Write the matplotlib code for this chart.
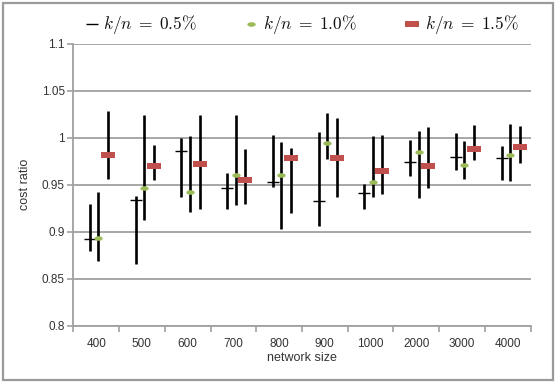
import numpy as np
import matplotlib
matplotlib.use("Agg")
import matplotlib.pyplot as plt
from matplotlib.path import Path
from matplotlib.lines import Line2D
from matplotlib.patches import Rectangle

plt.rcParams['font.family'] = ['Liberation Sans', 'DejaVu Sans']
plt.rcParams['mathtext.fontset'] = 'cm'

sizes = ["400", "500", "600", "700", "800", "900", "1000", "2000", "3000", "4000"]

# k/n = 0.5%
mid_05 = [0.892, 0.934, 0.986, 0.947, 0.953, 0.933, 0.941, 0.974, 0.979, 0.978]
hi_05 = [0.930, 0.938, 1.000, 0.962, 1.003, 1.006, 0.951, 0.998, 1.005, 0.991]
lo_05 = [0.880, 0.866, 0.937, 0.924, 0.948, 0.906, 0.924, 0.959, 0.966, 0.955]

# k/n = 1.0%
mid_10 = [0.893, 0.947, 0.942, 0.960, 0.960, 0.994, 0.953, 0.985, 0.971, 0.982]
hi_10 = [0.942, 1.024, 1.002, 1.024, 0.995, 1.026, 1.002, 1.007, 0.996, 1.015]
lo_10 = [0.869, 0.912, 0.921, 0.928, 0.903, 0.977, 0.937, 0.936, 0.956, 0.954]

# k/n = 1.5%
mid_15 = [0.982, 0.970, 0.972, 0.955, 0.978, 0.978, 0.965, 0.970, 0.988, 0.990]
hi_15 = [1.028, 0.992, 1.024, 0.988, 0.989, 1.021, 1.003, 1.011, 1.014, 1.012]
lo_15 = [0.956, 0.955, 0.924, 0.929, 0.920, 0.937, 0.940, 0.947, 0.976, 0.973]

labels = [r"$k/n\;=\;0.5\%$", r"$k/n\;=\;1.0\%$", r"$k/n\;=\;1.5\%$"]

# custom marker shapes
t = np.linspace(0, 2 * np.pi, 40)
ellipse = Path(np.column_stack([np.cos(t), 0.55 * np.sin(t)]), closed=True)
bar = Path([(-1, -0.4), (1, -0.4), (1, 0.4), (-1, 0.4), (-1, -0.4)], closed=True)

W, H = 556, 383
fig = plt.figure(figsize=(W / 100, H / 100), dpi=100)
ax = fig.add_axes([0.1318, 0.1496, 0.8227, 0.7363])

x = np.arange(len(sizes))
grid_c = "#a0a0a0"
series = [
    (mid_05, hi_05, lo_05, -0.135, dict(marker="_", color="black", markersize=9, markeredgewidth=1.0)),
    (mid_10, hi_10, lo_10, 0.05, dict(marker=ellipse, color="#9bbb59", markersize=6, markeredgewidth=0)),
    (mid_15, hi_15, lo_15, 0.26, dict(marker=bar, color="#c0504d", markersize=10.5, markeredgewidth=0)),
]
for mid, hi, lo, off, mk in series:
    ax.vlines(x + 0.5 + off, lo, hi, color="black", lw=1.9, zorder=3)
for mid, hi, lo, off, mk in series:
    ax.plot(x + 0.5 + off, mid, linestyle="none", zorder=4, **mk)

ax.set_xlim(0, len(sizes))
ax.set_ylim(0.8, 1.1)
ax.set_yticks(np.arange(0.8, 1.101, 0.05))
ax.set_yticklabels(["0.8", "0.85", "0.9", "0.95", "1", "1.05", "1.1"])
ax.set_xticks(x + 0.5)
ax.set_xticklabels(sizes)
ax.set_xticks(np.arange(len(sizes) + 1), minor=True)
ax.tick_params(axis="x", which="major", length=0, pad=9, labelsize=8.5, labelcolor="#333333")
ax.tick_params(axis="x", which="minor", length=4, width=1.2, color=grid_c)
ax.tick_params(axis="y", length=4, width=1.2, color=grid_c, labelsize=8.5, labelcolor="#333333", pad=2)
ax.grid(axis="y", color=grid_c, lw=1.3)
ax.set_axisbelow(True)
for s in ["top", "right"]:
    ax.spines[s].set_visible(False)
for s in ["left", "bottom"]:
    ax.spines[s].set_color(grid_c)
    ax.spines[s].set_linewidth(1.3)

ax.set_xlabel("network size", fontsize=9, color="#333333", labelpad=1)
ax.set_ylabel("cost ratio", fontsize=9, color="#333333", labelpad=8)

# legend drawn by hand along the top
leg_y = 1 - 24 / H
handle_x = [92, 251, 412]
text_x = [103, 263, 425]
for (mid, hi, lo, off, mk), hx, tx, lab in zip(series, handle_x, text_x, labels):
    fig.add_artist(Line2D([hx / W], [leg_y], transform=fig.transFigure, linestyle="none", **mk))
    fig.text(tx / W, leg_y, lab, fontsize=12.5, va="center", ha="left", color="#111111")

fig.patches.append(Rectangle((0.006, 0.008), 0.988, 0.984, transform=fig.transFigure,
                             fill=False, edgecolor="#9a9a9a", lw=1.6))

fig.savefig("out.png", dpi=100)
